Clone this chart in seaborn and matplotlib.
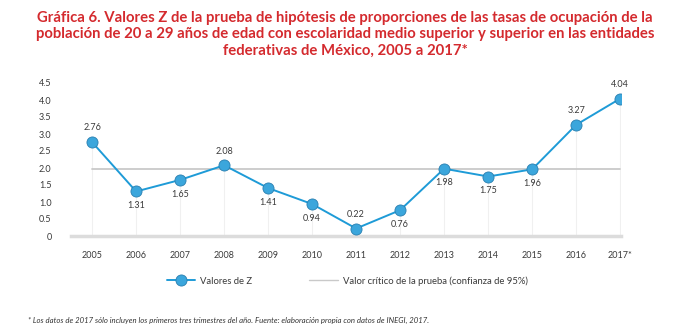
import matplotlib
matplotlib.use("Agg")
import matplotlib.pyplot as plt
import seaborn as sns
import pandas as pd
from matplotlib.lines import Line2D

years = ["2005", "2006", "2007", "2008", "2009", "2010", "2011", "2012",
         "2013", "2014", "2015", "2016", "2017*"]
z_values = [2.76, 1.31, 1.65, 2.08, 1.41, 0.94, 0.22, 0.76, 1.98, 1.75, 1.96, 3.27, 4.04]
label_above = [True, False, False, True, False, False, True, False, False, False, False, True, True]
critical_value = 1.96
y_ticks = [0, 0.5, 1.0, 1.5, 2.0, 2.5, 3.0, 3.5, 4.0, 4.5]
y_tick_labels = ["0", "0.5", "1.0", "1.5", "2.0", "2.5", "3.0", "3.5", "4.0", "4.5"]

title = ("Gráfica 6. Valores Z de la prueba de hipótesis de proporciones de las tasas de ocupación de la\n"
         "población de 20 a 29 años de edad con escolaridad medio superior y superior en las entidades\n"
         "federativas de México, 2005 a 2017*")
footnote = ("* Los datos de 2017 sólo incluyen los primeros tres trimestres del año. "
            "Fuente: elaboración propia con datos de INEGI, 2017.")

sns.set_theme(style="white")
plt.rcParams['font.family'] = ['Lato', 'DejaVu Sans']

df = pd.DataFrame({"x": range(len(years)), "z": z_values})

fig = plt.figure(figsize=(6.9, 3.36), dpi=100)
ax = fig.add_axes([71/690, 100/336, 550/690, 156.4/336])

LINE = "#1e9bd7"
MFACE = "#3ba6dc"
MEDGE = "#2a7fb0"
ax.vlines(df["x"], 0, df["z"], color="#f0f0f0", lw=0.8, zorder=0)
ax.plot([0, len(years) - 1], [critical_value, critical_value], color="#c9c9c9", lw=1.3, zorder=1)
sns.lineplot(data=df, x="x", y="z", ax=ax, color=LINE, lw=1.4, marker="o",
             markersize=8, markerfacecolor=MFACE, markeredgecolor=MEDGE,
             markeredgewidth=0.6, zorder=3)

for i, (v, above) in enumerate(zip(z_values, label_above)):
    if above:
        ax.annotate(f"{v:.2f}", (i, v), xytext=(0, 7), textcoords="offset points",
                    ha="center", va="bottom", fontsize=6.5, color="#3a3a3a")
    else:
        ax.annotate(f"{v:.2f}", (i, v), xytext=(0, -7), textcoords="offset points",
                    ha="center", va="top", fontsize=6.5, color="#3a3a3a")

ax.set_xlim(-0.48, 12.02)
ax.set_ylim(0, 4.6)
ax.set_xticks(range(len(years)))
ax.set_xticklabels(years, fontsize=6.5, color="#3a3a3a")
ax.set_yticks(y_ticks)
ax.set_yticklabels(y_tick_labels, fontsize=6.5, color="#3a3a3a")
ax.tick_params(axis="x", length=0, pad=11)
ax.tick_params(axis="y", length=0, pad=14)
ax.set_xlabel("")
ax.set_ylabel("")
for s in ["top", "right", "left"]:
    ax.spines[s].set_visible(False)
ax.spines["bottom"].set_color("#dcdcdc")
ax.spines["bottom"].set_linewidth(2.5)
ax.grid(False)

fig.text(0.5, 0.968, title, ha="center", va="top", fontsize=10.7, fontweight="bold",
         color="#d42a2e", linespacing=1.22)

h1 = Line2D([0], [0], color=LINE, lw=1.4, marker="o", markersize=8,
            markerfacecolor=MFACE, markeredgecolor=MEDGE, markeredgewidth=0.6)
h2 = Line2D([0], [0], color="#c9c9c9", lw=1.0)
fig.legend([h1, h2], ["Valores de Z", "Valor crítico de la prueba (confianza de 95%)"],
           loc="center left", bbox_to_anchor=(158/690, 1 - 281/336), ncol=2, frameon=False,
           fontsize=6.8, handlelength=3.0, columnspacing=6.0, handletextpad=0.6,
           labelcolor="#3a3a3a")

fig.text(28/690, 1 - 320/336, footnote, ha="left", va="center", fontsize=5.6,
         style="italic", color="#333333")

fig.savefig("out.png", dpi=100)
